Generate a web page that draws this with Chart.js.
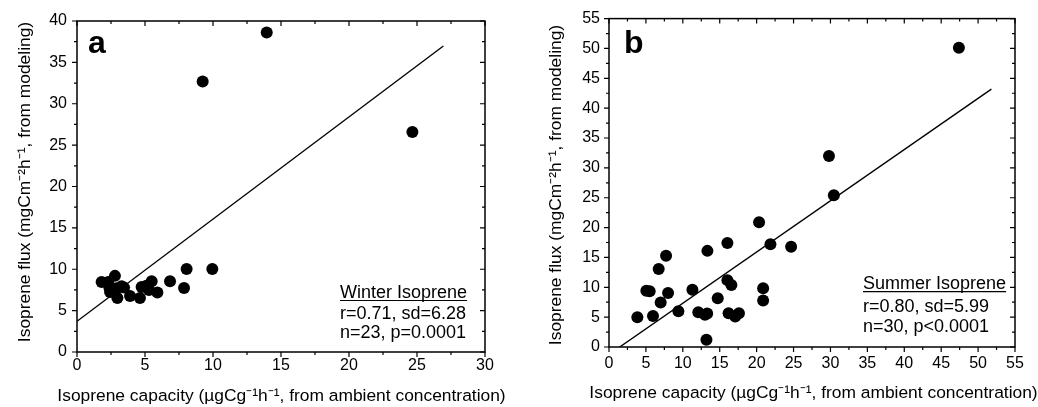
<!DOCTYPE html>
<html><head><meta charset="utf-8">
<script src="https://cdn.jsdelivr.net/npm/chart.js@4"></script>
<style>
html,body{margin:0;padding:0;background:#fff;}
#wrap{position:relative;width:1038px;height:407px;overflow:hidden;}
.box{position:absolute;top:0;width:519px;height:407px;}
</style></head><body>
<div id="wrap">
<div class="box" style="left:0"><canvas id="ca" width="519" height="407"></canvas></div>
<div class="box" style="left:519px"><canvas id="cb" width="519" height="407"></canvas></div>
</div>
<script>
// ---------- data ----------
const winterX = [13.95, 9.24, 24.66, 8.06, 9.95, 6.84, 7.87, 5.49, 5.91, 4.63, 3.90, 4.75, 5.10, 5.29, 1.81, 2.30, 2.79, 2.43, 2.38, 2.92, 3.28, 2.97, 3.46];
const winterY = [38.6, 32.7, 26.6, 10.04, 10.04, 8.55, 7.74, 8.55, 7.18, 6.53, 6.77, 7.86, 8.0, 7.5, 8.47, 8.47, 9.2, 7.26, 7.8, 7.7, 7.94, 6.53, 7.78];
const winterFitX = [0, 26.94];
const winterFitY = [3.71, 36.98];

const summerX = [47.4, 29.8, 30.46, 20.33, 21.87, 24.67, 16.04, 13.33, 7.73, 6.73, 5.06, 5.51, 8.0, 7.0, 3.84, 5.96, 9.4, 11.3, 12.1, 13.0, 13.3, 13.2, 14.73, 16.04, 16.58, 16.2, 17.1, 17.6, 20.88, 20.88];
const summerY = [50.1, 32.0, 25.4, 20.9, 17.2, 16.8, 17.4, 16.1, 15.3, 13.06, 9.44, 9.33, 9.06, 7.44, 5.0, 5.2, 6.0, 9.6, 5.83, 5.4, 5.6, 1.22, 8.17, 11.2, 10.4, 5.67, 5.1, 5.67, 9.83, 7.78];
const summerFitX = [1.45, 51.8];
const summerFitY = [0, 43.2];

const winterXTicks = [0, 5, 10, 15, 20, 25, 30];
const winterXMinor = [2.5, 7.5, 12.5, 17.5, 22.5, 27.5];
const winterYTicks = [0, 5, 10, 15, 20, 25, 30, 35, 40];
const winterYMinor = [2.5, 7.5, 12.5, 17.5, 22.5, 27.5, 32.5, 37.5];
const summerXTicks = [0, 5, 10, 15, 20, 25, 30, 35, 40, 45, 50, 55];
const summerXMinor = [2.5, 7.5, 12.5, 17.5, 22.5, 27.5, 32.5, 37.5, 42.5, 47.5, 52.5];
const summerYTicks = [0, 5, 10, 15, 20, 25, 30, 35, 40, 45, 50, 55];
const summerYMinor = [2.5, 7.5, 12.5, 17.5, 22.5, 27.5, 32.5, 37.5, 42.5, 47.5, 52.5];

const xTitle = 'Isoprene capacity (\u00b5gCg\u207b\u00b9h\u207b\u00b9, from ambient concentration)';
const yTitle = 'Isoprene flux (mgCm\u207b\u00b2h\u207b\u00b9, from modeling)';
const winterNote = ['Winter Isoprene', 'r=0.71, sd=6.28', 'n=23, p=0.0001'];
const summerNote = ['Summer Isoprene', 'r=0.80, sd=5.99', 'n=30, p<0.0001'];

// ---------- helpers ----------
const FONT = "'Liberation Sans', Arial, sans-serif";
Chart.defaults.font.family = FONT;
Chart.defaults.color = '#000';

function pts(xs, ys) { return xs.map((x, i) => ({x: x, y: ys[i]})); }

const framePlugin = {
  id: 'frameTicks',
  afterDraw(chart, args, o) {
    const {ctx, chartArea: a, scales: {x, y}} = chart;
    ctx.save();
    ctx.strokeStyle = '#000';
    ctx.lineWidth = 1.5;
    ctx.strokeRect(a.left, a.top, a.right - a.left, a.bottom - a.top);
    ctx.lineWidth = 1.2;
    ctx.beginPath();
    const tick = (vals, len) => {
      vals.forEach(v => {
        const px = x.getPixelForValue(v);
        ctx.moveTo(px, a.bottom); ctx.lineTo(px, a.bottom + len);
        ctx.moveTo(px, a.top); ctx.lineTo(px, a.top + len);
      });
    };
    const tickY = (vals, len) => {
      vals.forEach(v => {
        const py = y.getPixelForValue(v);
        ctx.moveTo(a.left, py); ctx.lineTo(a.left - len, py);
        ctx.moveTo(a.right, py); ctx.lineTo(a.right - len, py);
      });
    };
    tick(o.xMajor, 5); tick(o.xMinor, 3);
    tickY(o.yMajor, 5); tickY(o.yMinor, 3);
    ctx.stroke();

    ctx.fillStyle = '#000';

    // axis titles (drawn without width compression)
    ctx.textAlign = 'center';
    ctx.textBaseline = 'middle';
    ctx.font = o.titleSize + 'px ' + FONT;
    ctx.fillText(xTitle, o.xTitleX, o.xTitleY);
    ctx.save();
    ctx.translate(o.yTitleX, o.yTitleY);
    ctx.rotate(-Math.PI / 2);
    ctx.fillText(yTitle, 0, 0);
    ctx.restore();

    // panel letter
    ctx.textBaseline = 'alphabetic';
    ctx.textAlign = 'left';
    ctx.font = 'bold 32px ' + FONT;
    ctx.fillText(o.letter, o.letterX, o.letterY);

    // annotation
    ctx.font = '18px ' + FONT;
    o.note.forEach((t, i) => ctx.fillText(t, o.noteX, o.noteY[i]));
    const w = ctx.measureText(o.note[0]).width;
    ctx.lineWidth = 1.2;
    ctx.beginPath();
    ctx.moveTo(o.noteX, o.underY); ctx.lineTo(o.noteX + w, o.underY);
    ctx.stroke();
    ctx.restore();
  }
};

function makeChart(id, cfg) {
  return new Chart(document.getElementById(id), {
    type: 'scatter',
    data: {
      datasets: [
        {data: pts(cfg.xs, cfg.ys), pointRadius: 6, pointHoverRadius: 6, backgroundColor: '#000', borderWidth: 0, order: 0},
        {type: 'line', data: pts(cfg.fx, cfg.fy), showLine: true, pointRadius: 0, borderColor: '#000', borderWidth: 1.4, fill: false, order: 1}
      ]
    },
    options: {
      responsive: false,
      animation: false,
      layout: {padding: cfg.pad},
      plugins: {legend: {display: false}, tooltip: {enabled: false}, frameTicks: cfg.frame},
      scales: {
        x: {
          type: 'linear', min: cfg.xMin, max: cfg.xMax,
          afterFit(s) { s.height = cfg.xH; },
          grid: {display: false, drawTicks: false},
          border: {display: false},
          ticks: {stepSize: 5, padding: cfg.xTickPad, color: '#000', font: {size: 16}, maxRotation: 0, autoSkip: false},
          title: {display: false}
        },
        y: {
          type: 'linear', min: cfg.yMin, max: cfg.yMax,
          afterFit(s) { s.width = cfg.yW; },
          grid: {display: false, drawTicks: false},
          border: {display: false},
          ticks: {stepSize: 5, padding: cfg.yTickPad, color: '#000', font: {size: 16}, autoSkip: false},
          title: {display: false}
        }
      }
    },
    plugins: [framePlugin]
  });
}

makeChart('ca', {
  xs: winterX, ys: winterY, fx: winterFitX, fy: winterFitY,
  xMin: winterXTicks[0], xMax: winterXTicks[winterXTicks.length - 1],
  yMin: winterYTicks[0], yMax: winterYTicks[winterYTicks.length - 1],
  pad: {left: 0, top: 21, right: 34, bottom: 0},
  xH: 55, yW: 77, xTickPad: 4, yTickPad: 10,
  frame: {xMajor: winterXTicks, xMinor: winterXMinor, yMajor: winterYTicks, yMinor: winterYMinor,
          titleSize: 17.4, xTitleX: 281.5, xTitleY: 396.5, yTitleX: 25, yTitleY: 182,
          letter: 'a', letterX: 88, letterY: 53,
          note: winterNote, noteX: 340, noteY: [297.5, 318.8, 338.2], underY: 300.5}
});

makeChart('cb', {
  xs: summerX, ys: summerY, fx: summerFitX, fy: summerFitY,
  xMin: summerXTicks[0], xMax: summerXTicks[summerXTicks.length - 1],
  yMin: summerYTicks[0], yMax: summerYTicks[summerYTicks.length - 1],
  pad: {left: 0, top: 17, right: 23, bottom: 0},
  xH: 60, yW: 90, xTickPad: 7, yTickPad: 9,
  frame: {xMajor: summerXTicks, xMinor: summerXMinor, yMajor: summerYTicks, yMinor: summerYMinor,
          titleSize: 17.4, xTitleX: 294.5, xTitleY: 393, yTitleX: 37.5, yTitleY: 185,
          letter: 'b', letterX: 105, letterY: 53,
          note: summerNote, noteX: 344, noteY: [289.2, 312.4, 332.2], underY: 291.7}
});
</script>
</body></html>
